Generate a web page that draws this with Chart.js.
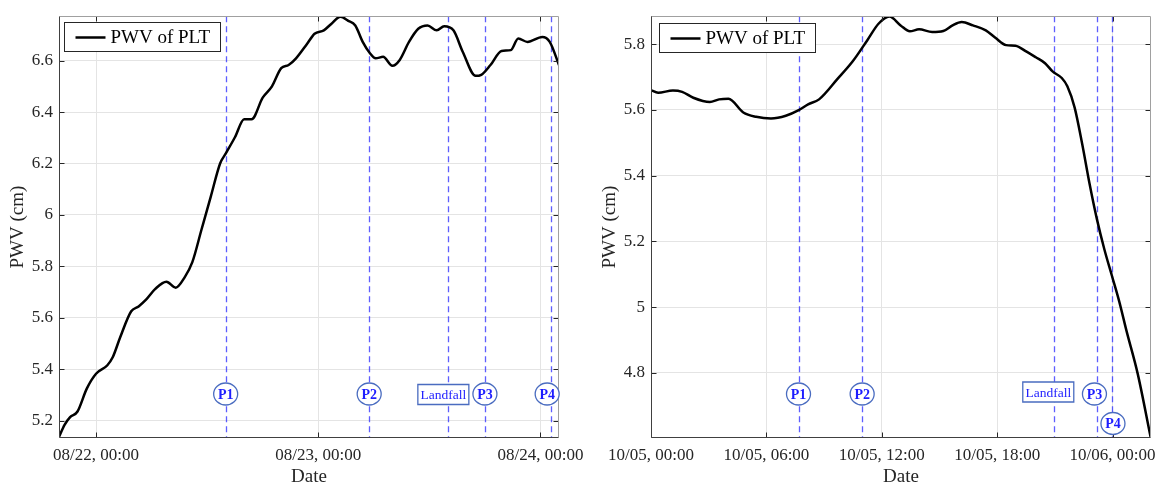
<!DOCTYPE html>
<html>
<head>
<meta charset="utf-8">
<script src="https://cdn.jsdelivr.net/npm/chart.js@4.4.1/dist/chart.umd.min.js"></script>
<style>
    body { margin: 0; background: #fff; }
    .panel { position: absolute; top: 0; height: 489px; }
    #leftPanel { left: 0; width: 600px; }
    #rightPanel { left: 590px; width: 576px; }
</style>
</head>
<body>
<div class="panel" id="leftPanel"><canvas id="leftChart"></canvas></div>
<div class="panel" id="rightPanel"><canvas id="rightChart"></canvas></div>
<script>
const fontFamily = '"Liberation Serif", "Times New Roman", serif';
const textColor = '#262626';

// left panel, hours counted from 08/22 00:00
const leftHours = [-4, -3.4, -2.8, -2, -1, 0, 1.2, 1.8, 2.6, 3.8, 4.6, 5.4, 6.4, 7.6, 8.6, 9.6, 10.4, 11.4, 12.4, 13.4,
    14, 15, 16, 16.8, 18, 19, 20, 20.8, 21.6, 22.8, 23.6, 24.6, 25.4, 26.4, 27.2, 28, 28.8, 29.6, 30.2, 31,
    32, 32.8, 33.8, 34.8, 35.8, 36.8, 37.6, 38.6, 39.6, 41, 41.6, 42.6, 43.8, 44.8, 45.6, 46.6, 48.2, 49, 50];
const leftPwv = [5.136, 5.183, 5.213, 5.235, 5.324, 5.382, 5.414, 5.446, 5.523, 5.625, 5.644, 5.670, 5.712, 5.740, 5.717, 5.759, 5.816, 5.944, 6.072, 6.200,
    6.238, 6.302, 6.372, 6.372, 6.456, 6.500, 6.571, 6.583, 6.609, 6.666, 6.705, 6.718, 6.743, 6.771, 6.756, 6.737, 6.673, 6.628, 6.609, 6.615,
    6.580, 6.603, 6.673, 6.724, 6.737, 6.718, 6.734, 6.718, 6.635, 6.541, 6.545, 6.583, 6.638, 6.641, 6.686, 6.673, 6.692, 6.673, 6.583];
const leftXTicks = [0, 24, 48];
const leftXLabels = ['08/22, 00:00', '08/23, 00:00', '08/24, 00:00'];
const leftYTicks = [5.2, 5.4, 5.6, 5.8, 6, 6.2, 6.4, 6.6];
const leftEventHours = [14, 29.5, 38.05, 42, 49.1];
const leftEventNames = ['P1', 'P2', 'Landfall', 'P3', 'P4'];

// right panel, hours counted from 10/05 00:00
const rightHours = [0, 0.37, 1.14, 1.62, 2.2, 3.06, 3.54, 4.03, 4.8, 5.47, 6.24, 7.01, 7.68, 8.17, 8.74, 9.71, 10.48, 11.25, 11.83, 12.4,
    12.98, 13.46, 13.94, 14.62, 15.2, 15.68, 16.16, 16.74, 17.41, 17.89, 18.47, 18.95, 19.53, 20.01, 20.49, 20.88, 21.36, 21.65, 22.03, 22.42,
    22.8, 23.19, 23.57, 23.96, 24.35, 24.73, 25.31, 25.98];
const rightPwv = [5.660, 5.652, 5.659, 5.655, 5.637, 5.624, 5.632, 5.634, 5.592, 5.579, 5.574, 5.582, 5.599, 5.617, 5.632, 5.695, 5.747, 5.812, 5.862, 5.884,
    5.857, 5.839, 5.845, 5.837, 5.840, 5.857, 5.867, 5.857, 5.842, 5.820, 5.797, 5.795, 5.777, 5.760, 5.742, 5.717, 5.697, 5.672, 5.607, 5.497,
    5.377, 5.267, 5.177, 5.097, 5.017, 4.927, 4.797, 4.605];
const rightXTicks = [0, 6, 12, 18, 24];
const rightXLabels = ['10/05, 00:00', '10/05, 06:00', '10/05, 12:00', '10/05, 18:00', '10/06, 00:00'];
const rightYTicks = [4.8, 5, 5.2, 5.4, 5.6, 5.8];
const rightEventHours = [7.67, 10.98, 20.95, 23.2, 23.97];
const rightEventNames = ['P1', 'P2', 'Landfall', 'P3', 'P4'];

// frame, inward ticks, event lines, event tags and the boxed legend
function decor(events, names, tagPos, legendPos) {
    return {
        id: 'decor',
        beforeDatasetsDraw(chart) {
            const { ctx, chartArea: a, scales: { x } } = chart;
            ctx.save();
            ctx.strokeStyle = 'rgba(40, 40, 255, 0.75)';
            ctx.lineWidth = 1.3;
            ctx.setLineDash([6, 4]);
            events.forEach(h => {
                const px = Math.round(x.getPixelForValue(h)) + 0.5;
                ctx.beginPath();
                ctx.moveTo(px, a.top);
                ctx.lineTo(px, a.bottom);
                ctx.stroke();
            });
            ctx.restore();
        },
        afterDraw(chart) {
            const { ctx, chartArea: a, scales: { x, y } } = chart;
            const L = Math.round(a.left) + 0.5, R = Math.round(a.right) - 0.5;
            const T = Math.round(a.top) + 0.5, B = Math.round(a.bottom) - 0.5;
            ctx.save();

            // inward ticks
            ctx.strokeStyle = textColor;
            ctx.lineWidth = 1;
            x.ticks.forEach(t => {
                const px = Math.round(x.getPixelForValue(t.value)) + 0.5;
                ctx.beginPath();
                ctx.moveTo(px, B); ctx.lineTo(px, B - 5);
                ctx.moveTo(px, T); ctx.lineTo(px, T + 5);
                ctx.stroke();
            });
            y.ticks.forEach(t => {
                const py = Math.round(y.getPixelForValue(t.value)) + 0.5;
                ctx.beginPath();
                ctx.moveTo(L, py); ctx.lineTo(L + 5, py);
                ctx.moveTo(R, py); ctx.lineTo(R - 5, py);
                ctx.stroke();
            });

            // box: dark left/bottom, lighter top/right
            ctx.strokeStyle = '#a0a0a0';
            ctx.beginPath();
            ctx.moveTo(L, T); ctx.lineTo(R, T); ctx.lineTo(R, B);
            ctx.stroke();
            ctx.strokeStyle = '#404040';
            ctx.beginPath();
            ctx.moveTo(L, T); ctx.lineTo(L, B); ctx.lineTo(R, B);
            ctx.stroke();

            // event tags
            ctx.textAlign = 'center';
            ctx.textBaseline = 'middle';
            events.forEach((h, i) => {
                const cx = x.getPixelForValue(h) + tagPos[i].dx;
                const cy = a.bottom - tagPos[i].dy;
                ctx.fillStyle = '#fff';
                ctx.strokeStyle = '#4a6cc0';
                ctx.lineWidth = 1.3;
                ctx.beginPath();
                if (names[i] === 'Landfall') {
                    ctx.rect(cx - 25.5, cy - 10, 51, 20);
                    ctx.font = '13.5px ' + fontFamily;
                } else {
                    ctx.ellipse(cx, cy, 12, 11, 0, 0, Math.PI * 2);
                    ctx.font = 'bold 14px ' + fontFamily;
                }
                ctx.fill();
                ctx.stroke();
                ctx.fillStyle = '#1e1eff';
                ctx.fillText(names[i], cx, cy + 1);
            });

            // legend
            const ds = chart.data.datasets[0];
            const bx = Math.round(a.left + legendPos.dx) + 0.5;
            const by = Math.round(a.top + legendPos.dy) + 0.5;
            ctx.fillStyle = '#fff';
            ctx.fillRect(bx, by, 156, 29);
            ctx.strokeStyle = textColor;
            ctx.lineWidth = 1;
            ctx.strokeRect(bx, by, 156, 29);
            ctx.strokeStyle = ds.borderColor;
            ctx.lineWidth = 2.5;
            ctx.beginPath();
            ctx.moveTo(bx + 11, by + 15);
            ctx.lineTo(bx + 41, by + 15);
            ctx.stroke();
            ctx.fillStyle = '#000';
            ctx.textAlign = 'left';
            ctx.font = '19px ' + fontFamily;
            ctx.fillText(ds.label, bx + 46, by + 15.5);

            ctx.restore();
        }
    };
}

function makeChart(canvasId, hours, pwv, xTicks, xLabels, yTicks, xMin, xMax, yMin, yMax, yWidth, padRight, titlePad, plugin) {
    const ctx = document.getElementById(canvasId).getContext('2d');
    return new Chart(ctx, {
        type: 'line',
        data: {
            datasets: [{
                label: 'PWV of PLT',
                data: hours.map((h, i) => ({ x: h, y: pwv[i] })),
                borderColor: '#000',
                borderWidth: 2.5,
                pointRadius: 0,
                cubicInterpolationMode: 'monotone',
                fill: false
            }]
        },
        options: {
            responsive: true,
            maintainAspectRatio: false,
            animation: false,
            layout: { padding: { top: 12, right: padRight, bottom: 0, left: 0 } },
            plugins: {
                legend: { display: false },
                tooltip: { enabled: false }
            },
            scales: {
                x: {
                    type: 'linear',
                    min: xMin,
                    max: xMax,
                    afterBuildTicks: scale => { scale.ticks = xTicks.map(v => ({ value: v })); },
                    afterFit: scale => { scale.height = 51; },
                    grid: { color: '#e4e4e4', drawTicks: false },
                    border: { display: false },
                    ticks: {
                        autoSkip: false,
                        maxRotation: 0,
                        padding: 7,
                        color: textColor,
                        font: { family: fontFamily, size: 17 },
                        callback: value => xLabels[xTicks.indexOf(value)]
                    },
                    title: {
                        display: true,
                        text: 'Date',
                        color: textColor,
                        font: { family: fontFamily, size: 19 },
                        padding: { top: 0, bottom: 1 }
                    }
                },
                y: {
                    min: yMin,
                    max: yMax,
                    afterBuildTicks: scale => { scale.ticks = yTicks.map(v => ({ value: v })); },
                    afterFit: scale => { scale.width = yWidth; },
                    grid: { color: '#e4e4e4', drawTicks: false },
                    border: { display: false },
                    ticks: {
                        padding: 6,
                        color: textColor,
                        font: { family: fontFamily, size: 17 },
                        callback: value => String(+value.toFixed(1))
                    },
                    title: {
                        display: true,
                        text: 'PWV (cm)',
                        color: textColor,
                        font: { family: fontFamily, size: 19 },
                        padding: { top: titlePad, bottom: 0 }
                    }
                }
            }
        },
        plugins: [plugin]
    });
}

const leftTags = [{ dx: 0, dy: 44 }, { dx: 0, dy: 44 }, { dx: -5, dy: 43.5 }, { dx: 0, dy: 44 }, { dx: -3.5, dy: 44 }];
const rightTags = [{ dx: 0, dy: 44 }, { dx: 0, dy: 44 }, { dx: -5.6, dy: 46 }, { dx: -2.7, dy: 44 }, { dx: 1, dy: 14.5 }];

makeChart('leftChart', leftHours, leftPwv, leftXTicks, leftXLabels, leftYTicks, -4, 50, 5.132, 6.773, 59, 41, 6.6,
    decor(leftEventHours, leftEventNames, leftTags, { dx: 4.7, dy: 5.6 }));

makeChart('rightChart', rightHours, rightPwv, rightXTicks, rightXLabels, rightYTicks, 0, 26, 4.602, 5.885, 61, 15, 8.6,
    decor(rightEventHours, rightEventNames, rightTags, { dx: 8, dy: 6.6 }));
</script>
</body>
</html>
